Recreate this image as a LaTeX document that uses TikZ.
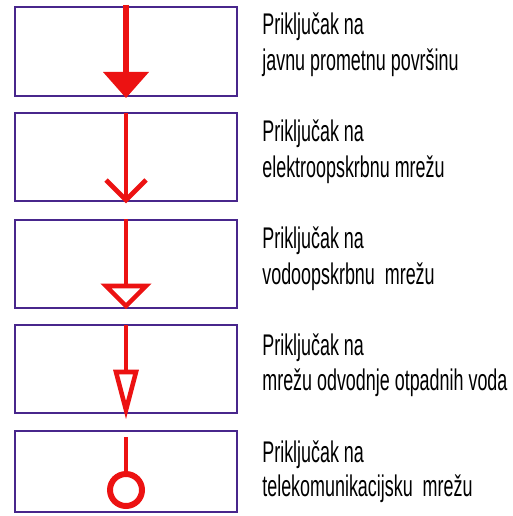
\documentclass[tikz,border=0pt]{standalone}
\usepackage{fontspec}
\setmainfont[FakeStretch=0.6]{Liberation Sans}
\definecolor{okvir}{RGB}{72,38,140}
\definecolor{crvena}{RGB}{236,18,18}
\tikzset{
  kutija/.style={draw=okvir,line width=1.2pt},
  vod/.style={draw=crvena,line width=2.8pt},
  opis/.style={anchor=base west,inner sep=0pt,font=\fontsize{17}{20}\selectfont}
}
\begin{document}
\begin{tikzpicture}[x=0.02cm,y=-0.02cm]
		\useasboundingbox (0,0) rectangle (512,516);
		%Kutije
		\draw[kutija] (15,7) rectangle (237,96);
		\draw[kutija] (15,113) rectangle (237,201);
		\draw[kutija] (15,220) rectangle (237,308);
		\draw[kutija] (15,325) rectangle (237,413);
		\draw[kutija] (15,431) rectangle (237,512);
		%Kutije
		
		%Prometna povrsina
		\draw[vod,line width=3.2pt] (126,5) -- (126,74);
		\fill[crvena] (103,72) -- (149,72) -- (126,98) -- cycle;
		
		%Elektroopskrba
		\draw[vod] (126,113) -- (126,200);
		\draw[vod,line join=miter] (106,180) -- (126,200) -- (146,180);
		
		%Vodoopskrba
		\draw[vod] (126,219) -- (126,286);
		\draw[vod,line width=2.6pt,line join=miter] (106,286) -- (146,286) -- (126,306) -- cycle;
		
		%Odvodnja
		\draw[vod] (126,325) -- (126,372);
		\draw[vod,line width=2.6pt,line join=miter] (116,372) -- (136,372) -- (126,410) -- cycle;
		
		%Telekomunikacije
		\draw[vod] (126,437) -- (126,472);
		\draw[vod,line width=3.4pt] (126,490) circle (16);
		
		%Tekst
		\node[opis](t1a)at (262,35) {Priključak na};
		\node[opis](t1b)at (262,71) {javnu prometnu površinu};
		\node[opis](t2a)at (262,142) {Priključak na};
		\node[opis](t2b)at (262,178) {elektroopskrbnu mrežu};
		\node[opis](t3a)at (262,249) {Priključak na};
		\node[opis](t3b)at (262,284) {vodoopskrbnu\ \ mrežu};
		\node[opis](t4a)at (262,355) {Priključak na};
		\node[opis](t4b)at (262,390) {mrežu odvodnje otpadnih voda};
		\node[opis](t5a)at (262,462) {Priključak na};
		\node[opis](t5b)at (262,496) {telekomunikacijsku\ \ mrežu};
		
	\end{tikzpicture}
\end{document}
